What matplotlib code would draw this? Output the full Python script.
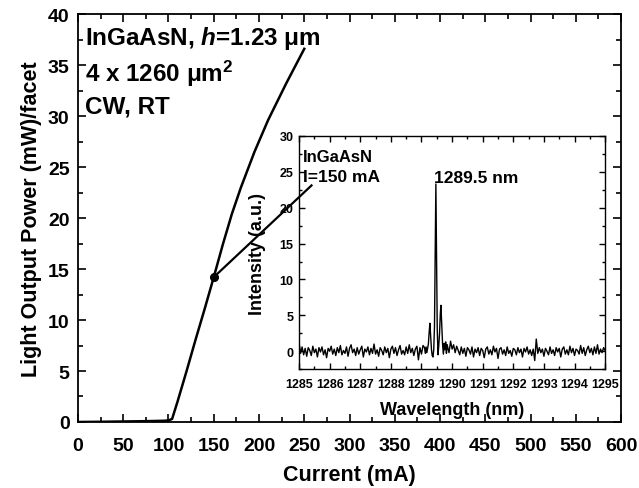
import numpy as np
import matplotlib
matplotlib.use("Agg")
import matplotlib.pyplot as plt
from matplotlib.ticker import MultipleLocator

plt.rcParams['font.family'] = ['Liberation Sans', 'DejaVu Sans']
plt.rcParams['font.weight'] = 'bold'
plt.rcParams['mathtext.fontset'] = 'custom'
plt.rcParams['mathtext.rm'] = 'Liberation Sans:bold'
plt.rcParams['mathtext.it'] = 'Liberation Sans:italic:bold'
plt.rcParams['mathtext.bf'] = 'Liberation Sans:bold'

# ---- L-I curve data ----
current_mA = [0, 25, 50, 75, 95, 100, 104, 110, 120, 130, 140, 150, 160, 170, 180,
              195, 210, 230, 250]
power_mW = [0.0, 0.02, 0.05, 0.08, 0.12, 0.15, 0.3, 2.0, 5.0, 8.1, 11.1, 14.2, 17.4,
            20.4, 23.0, 26.5, 29.6, 33.2, 36.6]

marker_current = 150
marker_power = 14.2
connector_end = (258, 23.2)

# ---- Spectrum data (inset) ----
base1_start, base_step = 1285.0, 0.05
base1_int = [1.2, -0.3, 0.6, -0.5, 0.4, -0.7, 0.5, 0.1, -0.6, 0.7,
             -0.2, 0.3, -0.8, 0.5, -0.1, 0.6, -0.5, 0.2, -0.9, 0.4,
             0.0, 0.7, -0.4, 0.3, -0.6, 0.5, -0.2, 0.8, -0.5, 0.1,
             -0.3, 0.6, -0.7, 0.4, 0.9, -0.2, 0.3, -0.6, 0.5, -0.4,
             0.2, 0.7, -0.8, 0.3, -0.1, 0.6, -0.5, 0.4, -0.3, 1.0,
             -0.4, 0.2, -0.7, 0.5, 0.1, -0.5, 0.6, -0.2, 0.4, -0.9,
             0.3, 0.7, -0.3, 0.5, -0.6, 0.2, 0.8, -0.4, 0.1, -0.5,
             0.6, -0.3, 0.9, -0.2, 0.4, -0.6, 0.3, 0.7, -1.2, 0.5,
             -0.4, 0.8]
peak_wl = [1289.100, 1289.125, 1289.150, 1289.175, 1289.200, 1289.225, 1289.250,
           1289.275, 1289.300, 1289.325, 1289.350, 1289.375, 1289.400, 1289.425,
           1289.450, 1289.470, 1289.490, 1289.515, 1289.540, 1289.565, 1289.590,
           1289.615, 1289.635, 1289.660, 1289.690, 1289.715, 1289.740, 1289.765,
           1289.790, 1289.815, 1289.840, 1289.865, 1289.900]
peak_int = [0.5, -0.3, 0.6, -0.2, 0.4, 1.0, 2.6, 3.9, 2.2, 0.3, -0.6, -0.8, 0.2,
            3.5, 14.0, 23.3, 14.5, 3.0, -0.5, 0.8, 2.5, 5.2, 6.4, 3.8, 0.9, -0.4,
            1.1, 0.2, 1.3, -0.3, 0.9, 0.4, -0.2]
base2_start = 1289.95
base2_int = [1.4, 0.3, 0.9, -0.2, 0.7, 0.1, -0.5, 0.6, -0.3, 0.4,
             -0.7, 0.5, 0.2, -0.4, 0.6, -0.8, 0.3, -0.2, 0.5, -0.6,
             0.4, 0.1, -0.9, 0.3, 0.6, -0.4, 0.2, -0.5, 0.7, -0.1,
             0.4, -1.0, 0.3, 0.5, -0.4, 0.2, -0.6, 0.6, -0.3, 0.1,
             -0.7, 0.4, 0.2, -0.5, 0.5, -0.2, 0.3, -0.8, 0.4, -0.1,
             0.6, -0.4, 0.2, -0.6, 0.3, -1.3, 1.7, -0.3, 0.5, -0.2,
             0.3, -0.7, 0.4, 0.0, -0.5, 0.6, -0.3, 0.2, -0.6, 0.5,
             -0.1, 0.4, -0.8, 0.3, 0.6, -0.4, 0.2, -0.5, 0.7, -0.2,
             0.4, -0.6, 0.3, 0.1, -0.4, 0.8, -0.3, 0.5, -0.6, 0.2,
             0.7, -0.2, 0.4, -0.5, 0.6, -0.3, 0.9, -0.4, 0.3, -0.2,
             0.5, 0.1]

base1_wl = base1_start + base_step * np.arange(len(base1_int))
base2_wl = base2_start + base_step * np.arange(len(base2_int))
spec_wl = np.concatenate([base1_wl, peak_wl, base2_wl])
spec_int = np.concatenate([base1_int, peak_int, base2_int])

main_xticks = list(range(0, 601, 50))
main_yticks = list(range(0, 41, 5))
inset_xticks = list(range(1285, 1296))
inset_yticks = list(range(0, 31, 5))

# ---- Figure ----
fig = plt.figure(figsize=(6.39, 4.89), dpi=100)
ax = fig.add_axes([0.122, 0.135, 0.850, 0.834])
ax.plot(current_mA, power_mW, color='black', lw=1.8, solid_joinstyle='round')
ax.plot([marker_current], [marker_power], 'o', color='black', ms=5.5, zorder=5)
ax.set_xlim(0, 600)
ax.set_ylim(0, 40)
ax.set_xticks(main_xticks)
ax.set_yticks(main_yticks)
ax.xaxis.set_minor_locator(MultipleLocator(25))
ax.yaxis.set_minor_locator(MultipleLocator(2.5))
ax.tick_params(which='both', direction='in', top=True, right=True, width=1.2)
ax.tick_params(which='major', length=6, labelsize=14)
ax.tick_params(axis='x', which='major', pad=11)
ax.tick_params(axis='y', which='major', pad=6)
ax.tick_params(which='minor', length=3.5)
for lab in ax.get_xticklabels() + ax.get_yticklabels():
    lab.set_fontweight('bold')
for s in ax.spines.values():
    s.set_linewidth(1.3)
ax.set_xlabel('Current (mA)', fontsize=15.5, fontweight='bold', labelpad=7)
ax.set_ylabel('Light Output Power (mW)/facet', fontsize=15.5, fontweight='bold', labelpad=4)

ax.text(8, 37.7, r'InGaAsN, $\mathit{h}$=1.23 μm', fontsize=17.5, fontweight='bold', va='center')
ax.text(8, 34.2, r'4 x 1260 μm$^{2}$', fontsize=17.5, fontweight='bold', va='center')
ax.text(8, 31.0, 'CW, RT', fontsize=17.5, fontweight='bold', va='center')

# ---- Inset ----
ins = fig.add_axes([0.468, 0.243, 0.479, 0.477])
ins.plot(spec_wl, spec_int, color='black', lw=1.0)
ins.set_xlim(1285, 1295)
ins.set_ylim(-2.5, 30)
ins.set_xticks(inset_xticks)
ins.set_yticks(inset_yticks)
ins.xaxis.set_minor_locator(MultipleLocator(0.5))
ins.yaxis.set_minor_locator(MultipleLocator(2.5))
ins.tick_params(which='both', direction='in', top=True, right=True, width=1.0)
ins.tick_params(which='major', length=4, labelsize=9)
ins.tick_params(axis='x', which='major', pad=6)
ins.tick_params(axis='y', which='major', pad=4)
ins.tick_params(which='minor', length=2.5)
for lab in ins.get_xticklabels() + ins.get_yticklabels():
    lab.set_fontweight('bold')
for s in ins.spines.values():
    s.set_linewidth(1.0)
ins.set_xlabel('Wavelength (nm)', fontsize=13, fontweight='bold', labelpad=8)
ins.set_ylabel('Intensity (a.u.)', fontsize=13, fontweight='bold', labelpad=10)
ins.text(1285.13, 27.1, 'InGaAsN', fontsize=12, fontweight='bold', va='center')
ins.text(1285.13, 24.3, 'I=150 mA', fontsize=12.5, fontweight='bold', va='center')
ins.text(1289.42, 24.2, '1289.5 nm', fontsize=12.5, fontweight='bold', va='center')

# connector from the L-I point into the inset
ins.plot([marker_current, connector_end[0]], [marker_power, connector_end[1]],
         color='black', lw=1.6, transform=ax.transData, clip_on=False, zorder=6)

fig.savefig('out.png', dpi=100)
